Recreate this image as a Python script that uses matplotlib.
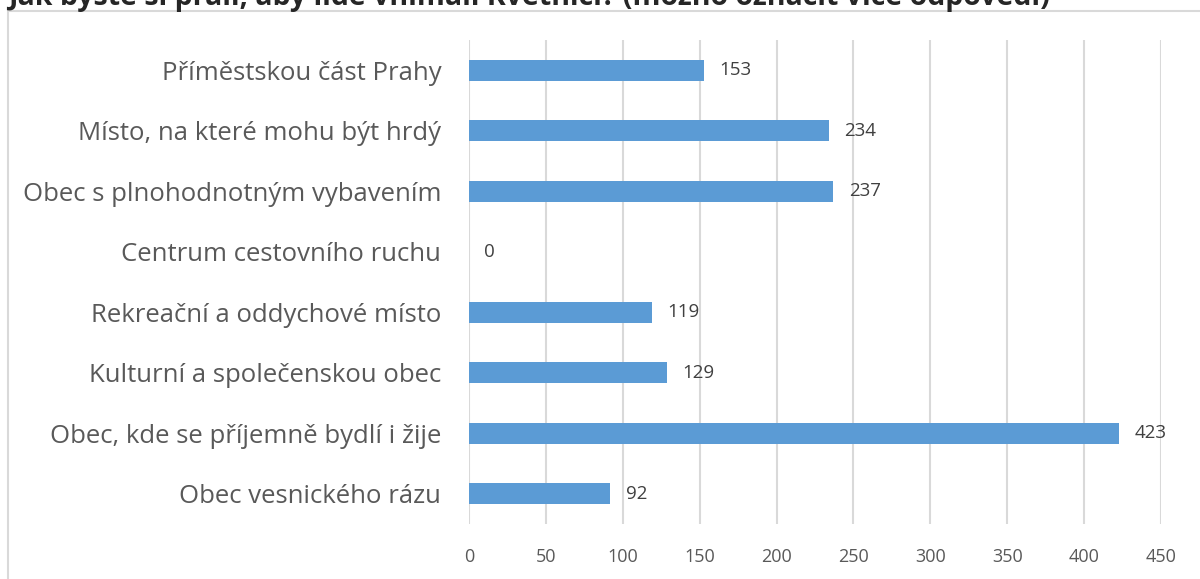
import matplotlib.pyplot as plt
from matplotlib.patches import Rectangle

plt.rcParams['font.family'] = ['Open Sans', 'DejaVu Sans']

categories = ["Obec vesnického rázu",
              "Obec, kde se příjemně bydlí i žije",
              "Kulturní a společenskou obec",
              "Rekreační a oddychové místo",
              "Centrum cestovního ruchu",
              "Obec s plnohodnotným vybavením",
              "Místo, na které mohu být hrdý",
              "Příměstskou část Prahy"]
values = [92, 423, 129, 119, 0, 237, 234, 153]
title = "Jak byste si přáli, aby lidé vnímali Květnici? (možno označit více odpovědí)"

W, H = 1200, 579
fig = plt.figure(figsize=(W / 100, H / 100), dpi=100)
ax = fig.add_axes([469 / W, 1 - 524 / H, (1161 - 469) / W, (524 - 40) / H])

text_col = '#595959'
grid_col = '#D9D9D9'

# frame around chart area (runs off right/bottom edge)
fig.patches.append(Rectangle((8 / W, -0.1), 1.2, 1 - 11 / H + 0.1,
                             transform=fig.transFigure, fill=False,
                             edgecolor=grid_col, linewidth=1.5))

# title is cut off at the top edge in the original
fig.text(8 / W, 1 - 5 / H, title, fontsize=20.5, fontweight='bold',
         color='#262626', ha='left', va='baseline')

y = range(len(categories))
ax.barh(y, values, height=0.35, color='#5B9BD5')
for yi, v in zip(y, values):
    ax.text(v + 10, yi, str(v), va='center', ha='left', fontsize=13.5, color='#404040')

ax.set_xlim(0, 450)
ax.set_ylim(-0.5, len(categories) - 0.5)
ax.set_xticks(range(0, 451, 50))
ax.set_yticks(list(y))
ax.set_yticklabels(categories, fontsize=18.5, color=text_col)
ax.tick_params(axis='x', labelsize=13, labelcolor=text_col, length=0, pad=17)
ax.tick_params(axis='y', length=0, pad=20)
ax.grid(axis='x', color=grid_col, linewidth=1.5)
ax.set_axisbelow(True)
for s in ax.spines.values():
    s.set_visible(False)

fig.savefig('out.png', dpi=100)
